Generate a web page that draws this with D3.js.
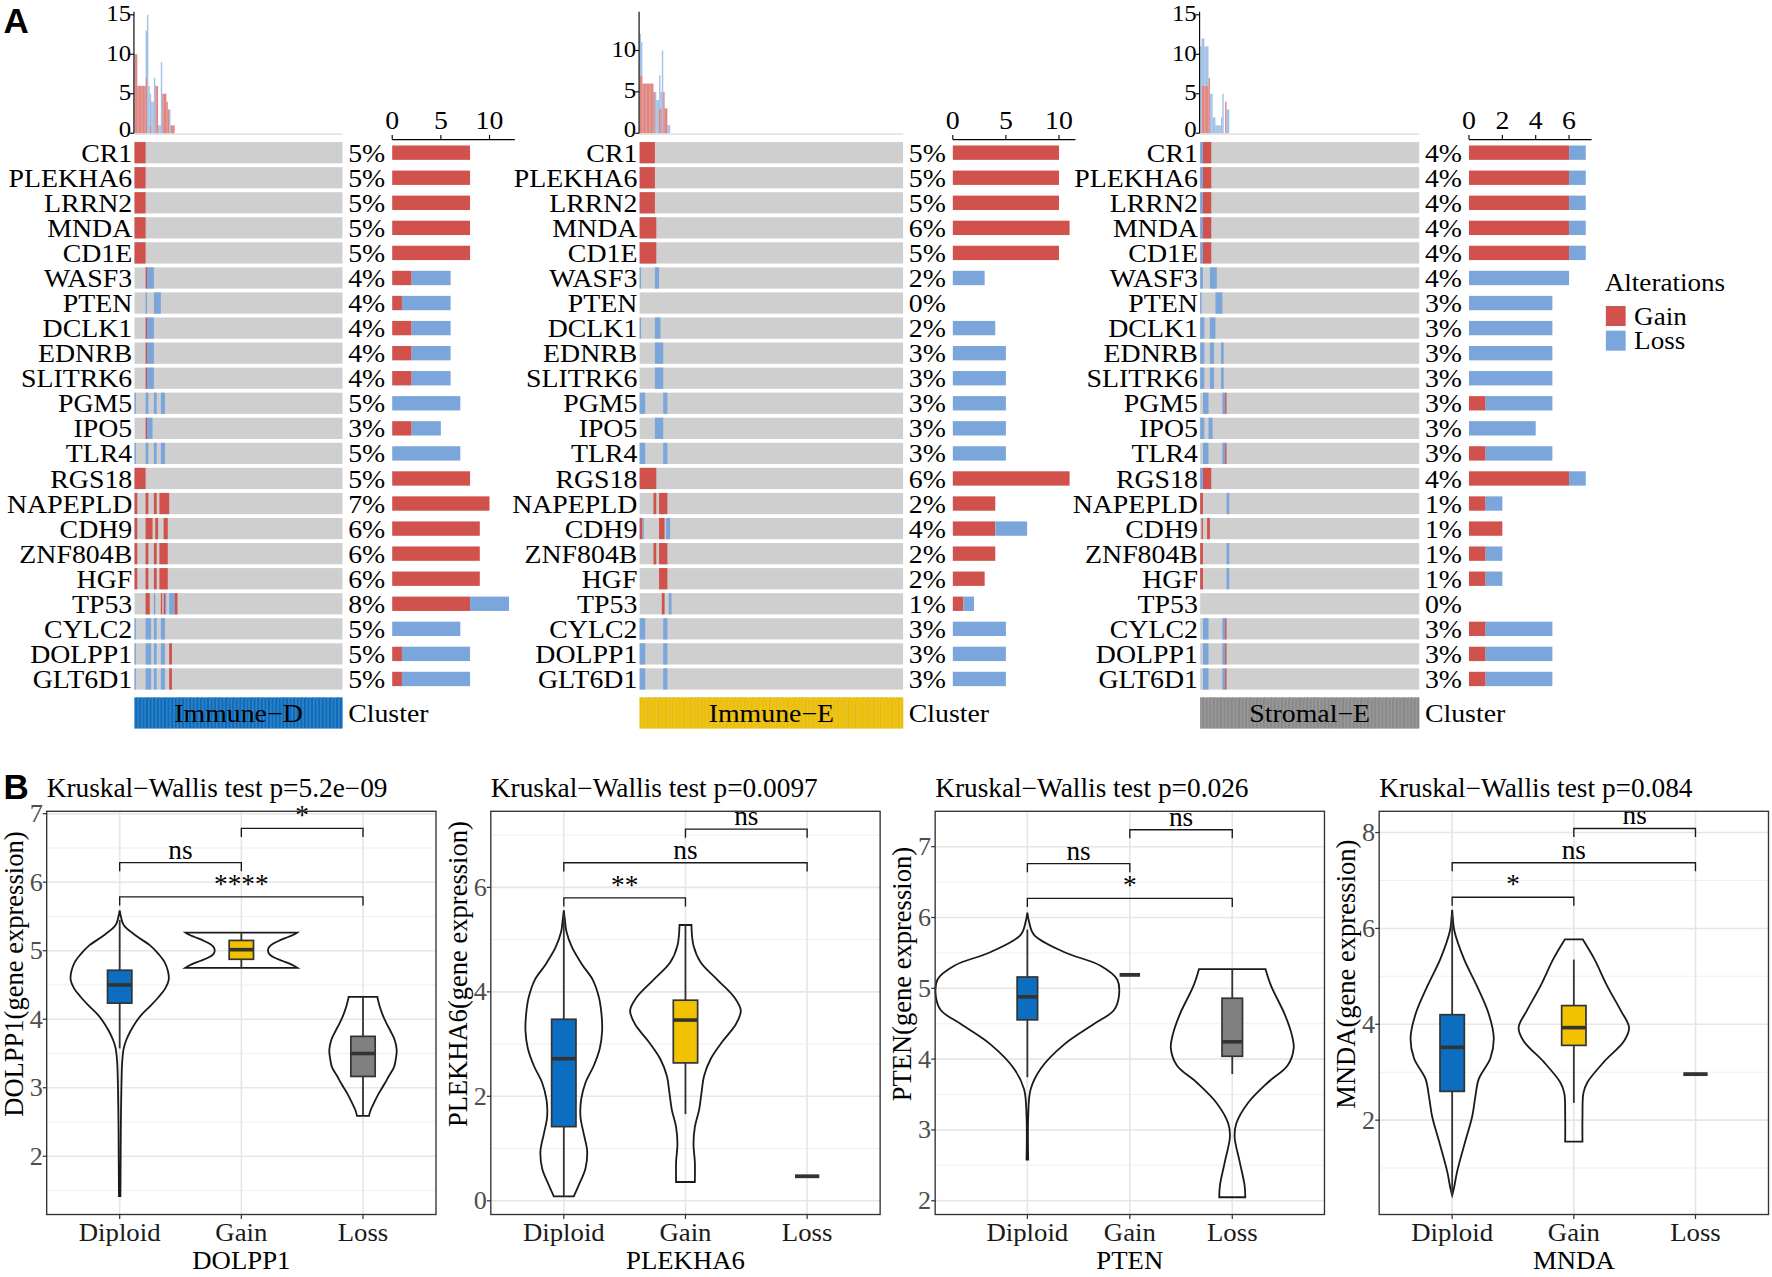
<!DOCTYPE html>
<html>
<head>
<meta charset="utf-8">
<script src="https://cdnjs.cloudflare.com/ajax/libs/d3/7.8.5/d3.min.js"></script>
<style>
body { margin: 0; background: #fff; }
text { font-family: "Liberation Serif", "Times New Roman", serif; }
</style>
</head>
<body>
<svg id="fig" width="1772" height="1277" viewBox="0 0 1568 1130"></svg>
<script>
// ---------------- data: panel A (oncoprints) ----------------
var genes = ["CR1", "PLEKHA6", "LRRN2", "MNDA", "CD1E", "WASF3", "PTEN", "DCLK1", "EDNRB", "SLITRK6",
    "PGM5", "IPO5", "TLR4", "RGS18", "NAPEPLD", "CDH9", "ZNF804B", "HGF", "TP53", "CYLC2", "DOLPP1", "GLT6D1"];
var clusterNames = ["Immune\u2212D", "Immune\u2212E", "Stromal\u2212E"];
var clusterSizes = [150, 190, 158];

// samples with gain / loss per gene (right barplots) and the printed percentages
var immuneD_gain = [8, 8, 8, 8, 8, 2, 1, 2, 2, 2, 0, 2, 0, 8, 10, 9, 9, 9, 8, 0, 1, 1];
var immuneD_loss = [0, 0, 0, 0, 0, 4, 5, 4, 4, 4, 7, 3, 7, 0, 0, 0, 0, 0, 4, 7, 7, 7];
var immuneD_pct = [5, 5, 5, 5, 5, 4, 4, 4, 4, 4, 5, 3, 5, 5, 7, 6, 6, 6, 8, 5, 5, 5];
var immuneE_gain = [10, 10, 10, 11, 10, 0, 0, 0, 0, 0, 0, 0, 0, 11, 4, 4, 4, 3, 1, 0, 0, 0];
var immuneE_loss = [0, 0, 0, 0, 0, 3, 0, 4, 5, 5, 5, 5, 5, 0, 0, 3, 0, 0, 1, 5, 5, 5];
var immuneE_pct = [5, 5, 5, 6, 5, 2, 0, 2, 3, 3, 3, 3, 3, 6, 2, 4, 2, 2, 1, 3, 3, 3];
var stromalE_gain = [6, 6, 6, 6, 6, 0, 0, 0, 0, 0, 1, 0, 1, 6, 1, 2, 1, 1, 0, 1, 1, 1];
var stromalE_loss = [1, 1, 1, 1, 1, 6, 5, 5, 5, 5, 4, 4, 4, 1, 1, 0, 1, 1, 0, 4, 4, 4];
var stromalE_pct = [4, 4, 4, 4, 4, 4, 3, 3, 3, 3, 3, 3, 3, 4, 1, 1, 1, 1, 0, 3, 3, 3];

// oncoprint cells: type (G gain / L loss) + first sample : number of samples
var immuneD_cells = [
    ["G0:8"], ["G0:8"], ["G0:8"], ["G0:8"], ["G0:8"],
    ["G8:1", "L9:5"], ["L8:1", "L14:5"], ["G8:1", "L9:5"], ["G8:1", "L9:5"], ["G8:1", "L9:5"],
    ["L0:1", "L8:2", "L14:2", "L19:3"], ["G8:1", "L9:4"], ["L0:1", "L8:2", "L14:2", "L19:3"],
    ["G0:8"],
    ["G0:2", "G8:2", "G14:2", "G18:7"], ["G0:2", "G8:5", "G15:2", "G21:3"],
    ["G0:2", "G8:2", "G14:2", "G18:6"], ["G0:2", "G8:2", "G14:2", "G18:6"],
    ["G8:3", "L14:1", "G19:1", "G21:1", "L22:1", "L25:4", "G29:2"],
    ["L0:1", "L8:4", "L14:2", "L19:3"], ["L0:1", "L8:4", "L14:2", "L19:3", "G25:2"],
    ["L0:1", "L8:4", "L14:2", "L19:3", "G25:2"]
];
var immuneE_cells = [
    ["G0:11"], ["G0:11"], ["G0:11"], ["G0:12"], ["G0:12"],
    ["L0:1", "L11:3"], [], ["L0:1", "L11:4"], ["L11:6"], ["L11:6"],
    ["L0:4", "L17:3"], ["L11:6"], ["L0:4", "L17:3"],
    ["G0:12"],
    ["G10:2", "G14:6"], ["G0:2", "L2:1", "G14:4", "L19:3"], ["G10:2", "G14:6"], ["G14:6"],
    ["G16:2", "L21:2"],
    ["L0:4", "L17:3"], ["L0:4", "L17:3"], ["L0:4", "L17:3"]
];
var stromalE_cells = [
    ["L0:2", "G2:6"], ["L0:2", "G2:6"], ["L0:2", "G2:6"], ["L0:2", "G2:6"], ["L0:2", "G2:6"],
    ["L0:2", "L7:5"], ["L0:1", "L11:5"], ["L0:3", "L7:4"], ["L0:3", "L7:3", "L15:2"], ["L0:3", "L7:3", "L15:2"],
    ["L2:4", "L16:2", "G18:1"], ["L0:3", "L6:3"], ["L2:4", "L16:2", "G18:1"],
    ["L0:2", "G2:6"],
    ["G0:2", "L19:2"], ["G1:1", "G5:2"], ["G0:2", "L19:2"], ["G0:2", "L19:2"],
    [],
    ["L2:4", "L16:2", "G18:1"], ["L2:4", "L16:2", "G18:1"], ["L2:4", "L16:2", "G18:1"]
];

// alterations per sample (top histograms), first samples only
var immuneD_histGain = [10, 10, 6, 6, 6, 6, 6, 6, 7, 0, 0, 1, 0, 0, 0, 6, 6, 0, 0, 0, 5, 5, 5, 4, 3, 0, 1, 1, 1];
var immuneD_histLoss = [0, 0, 0, 0, 0, 0, 0, 0, 6, 15, 6, 4, 4, 4, 7, 0, 0, 1, 1, 9, 0, 0, 0, 0, 0, 3, 0, 0, 0];
var immuneE_histGain = [7, 7, 6, 6, 6, 6, 6, 6, 6, 6, 5, 0, 0, 0, 3, 3, 0, 5, 3, 3, 0, 0];
var immuneE_histLoss = [5, 4, 0, 0, 0, 0, 0, 0, 0, 0, 0, 5, 4, 4, 4, 2, 10, 0, 0, 0, 1, 1];
var stromalE_histGain = [0, 6, 6, 6, 6, 6, 7, 0, 0, 0, 0, 0, 0, 0, 0, 0, 0, 0, 4, 0, 0];
var stromalE_histLoss = [11, 6, 6, 5, 5, 5, 0, 5, 5, 2, 2, 1, 1, 1, 1, 2, 5, 0, 0, 3, 3];

var histTop = [15.4, 14.7, 15.4];
var histTicks = [[0, 5, 10, 15], [0, 5, 10], [0, 5, 10, 15]];
var barTicks = [[0, 5, 10], [0, 5, 10], [0, 2, 4, 6]];
var legendLabels = ["Gain", "Loss"];

// ---------------- data: panel B (violins) ----------------
var groups = ["Diploid", "Gain", "Loss"];
var violinGenes = ["DOLPP1", "PLEKHA6", "PTEN", "MNDA"];
var kruskalP = ["5.2e\u221209", "0.0097", "0.026", "0.084"];
var yTicks = [[2, 3, 4, 5, 6, 7], [0, 2, 4, 6], [2, 3, 4, 5, 6, 7], [2, 4, 6, 8]];
var yMinor = [[1.5, 2.5, 3.5, 4.5, 5.5, 6.5], [1, 3, 5, 7], [2.5, 3.5, 4.5, 5.5, 6.5], [1, 3, 5, 7]];
var yRanges = [[1.15, 7.035], [-0.262, 7.456], [1.806, 7.5], [0.031, 8.444]];
var xPad = [0.6, 0.6, 0.9, 0.6];

// violin outlines: [expression, half width in group units]
var dolpp1_violin = [
    [[1.42, .006], [2.0, .008], [2.5, .01], [3.0, .014], [3.325, .019], [3.45, .024], [3.575, .033], [3.7, .055],
     [3.825, .088], [3.95, .13], [4.075, .184], [4.2, .255], [4.325, .32], [4.45, .375], [4.575, .403], [4.7, .397],
     [4.83, .37], [4.95, .32], [5.075, .252], [5.225, .129], [5.375, .033], [5.5, .01], [5.59, 0]],
    [[4.75, .46], [4.8, .41], [4.85, .34], [4.9, .27], [4.95, .23], [5.0, .219], [5.05, .227], [5.1, .26],
     [5.15, .315], [5.2, .384], [5.24, .438], [5.265, .46]],
    [[2.59, .049], [2.675, .063], [2.8, .096], [2.925, .132], [3.05, .175], [3.175, .214], [3.3, .255], [3.425, .27],
     [3.55, .277], [3.7, .26], [3.825, .227], [3.95, .19], [4.075, .159], [4.2, .135], [4.325, .118]]
];
var plekha6_violin = [
    [[0.085, .082], [0.3, .123], [0.62, .178], [0.95, .192], [1.28, .164], [1.61, .137], [1.93, .142], [2.26, .178],
     [2.59, .247], [2.92, .296], [3.25, .315], [3.57, .31], [3.9, .288], [4.23, .238], [4.52, .151], [4.85, .068],
     [5.15, .022], [5.4, .008], [5.56, 0]],
    [[0.36, .077], [0.75, .077], [1.08, .066], [1.41, .077], [1.74, .112], [2.07, .132], [2.39, .153], [2.72, .208],
     [3.05, .304], [3.38, .414], [3.64, .455], [3.9, .4], [4.23, .263], [4.56, .126], [4.885, .066], [5.28, .049]],
    null
];
var pten_violin = [
    [[2.58, .008], [3.19, .008], [3.575, .032], [3.865, .13], [4.205, .357], [4.495, .649], [4.69, .844], [4.883, .893],
     [5.125, .877], [5.32, .714], [5.513, .357], [5.755, .065], [5.95, .015], [6.07, 0]],
    null,
    [[2.05, .127], [2.22, .12], [2.56, .071], [2.9, .023], [3.09, .039], [3.38, .153], [3.67, .347], [3.91, .54],
     [4.16, .6], [4.35, .58], [4.64, .51], [5.03, .38], [5.27, .325]]
];
var mnda_violin = [
    [[0.43, 0], [0.57, .014], [0.93, .041], [1.57, .109], [2.07, .164], [2.5, .191], [2.86, .219], [3.29, .314],
     [3.72, .342], [4.22, .3], [4.79, .205], [5.37, .096], [5.94, .019], [6.2, .006], [6.39, 0]],
    [[1.55, .071], [2.07, .071], [2.57, .079], [2.79, .112], [3.22, .249], [3.65, .413], [3.93, .454], [4.29, .385],
     [4.79, .276], [5.37, .167], [5.77, .074]],
    null
];
// boxes: [lower whisker, q1, median, q3, upper whisker]
var dolpp1_box = [[3.575, 4.235, 4.5, 4.715, 5.45], [4.75, 4.875, 5.015, 5.15, 5.265], [2.59, 3.165, 3.5, 3.75, 4.325]];
var plekha6_box = [[0.085, 1.42, 2.72, 3.475, 5.5], [1.66, 2.64, 3.46, 3.84, 5.28], [0.47, 0.47, 0.47, 0.47, 0.47]];
var pten_box = [[3.745, 4.555, 4.88, 5.16, 5.83], [5.19, 5.19, 5.19, 5.19, 5.19], [3.79, 4.04, 4.245, 4.86, 5.27]];
var mnda_box = [[0.43, 2.6, 3.52, 4.2, 6.3], [2.36, 3.56, 3.93, 4.39, 5.35], [2.96, 2.96, 2.96, 2.96, 2.96]];
// pairwise tests: [group a, group b, bracket height, label]
var dolpp1_tests = [[1, 2, 6.285, "ns"], [2, 3, 6.785, "*"], [1, 3, 5.785, "****"]];
var plekha6_tests = [[1, 2, 5.8, "**"], [1, 3, 6.47, "ns"], [2, 3, 7.115, "ns"]];
var pten_tests = [[1, 2, 6.76, "ns"], [1, 3, 6.27, "*"], [2, 3, 7.24, "ns"]];
var mnda_tests = [[1, 2, 6.65, "*"], [1, 3, 7.37, "ns"], [2, 3, 8.086, "ns"]];

// ---------------- drawing ----------------
var GAIN = "#d1514c", LOSS = "#7aa6dc", GREY = "#cfcfcf";
var clusterColors = ["#0b6ec0", "#f2c200", "#8c8c8c"];
var FS_A = 22, SX_A = 1.12;     // oncoprint lettering (a little wide in the figure)
var FS_B = 23.5, SX_B = 1.03;   // violin panels

var svg = d3.select("#fig");

function txt(g, x, y, s, size, anchor, opts) {
    opts = opts || {};
    var sx = opts.sx || 1;
    var tr = "translate(" + x + "," + y + ")" + (opts.rot ? " rotate(-90)" : " scale(" + sx + ",1)");
    var t = g.append("text")
        .attr("transform", tr)
        .attr("text-anchor", anchor || "start")
        .attr("font-size", size)
        .attr("fill", opts.fill || "#000")
        .text(s);
    if (opts.mid) t.attr("dominant-baseline", "central");
    if (opts.sans) t.style("font-family", "'Liberation Sans', Arial, sans-serif").attr("font-weight", "bold");
    return t;
}

var SW = 1.227;                 // one sample column
var gridX = [119, 566, 1062];
var CELL_H = 18.8, BAR_H = 12.7;
var rowY = d3.scalePoint().domain(genes).range([135.1, 600.8]);

function parseCells(cells) {
    var out = [];
    cells.forEach(function (list, i) {
        list.forEach(function (s) {
            var m = s.slice(1).split(":");
            out.push({gene: genes[i], type: s[0], start: +m[0], len: +m[1]});
        });
    });
    return out;
}

function drawOnco(p, cells, gain, loss, pct, hGain, hLoss) {
    var n = clusterSizes[p], x0 = gridX[p], x1 = x0 + n * SW;
    var g = svg.append("g");
    var xs = d3.scaleLinear().domain([0, n]).range([x0, x1]);
    var A = {mid: true, sx: SX_A};

    // top histogram
    var hy = d3.scaleLinear().domain([0, histTop[p]]).range([117.9, 10.3]);
    g.append("line").attr("x1", x0).attr("x2", x1).attr("y1", hy(0) + 0.8).attr("y2", hy(0) + 0.8)
        .attr("stroke", "#e4e4e4").attr("stroke-width", 1.6);
    var hist = hGain.map(function (v, i) { return {i: i, g: v, l: hLoss[i]}; });
    g.selectAll("rect.hg").data(hist).enter().append("rect")
        .attr("x", function (d) { return xs(d.i); })
        .attr("width", SW)
        .attr("y", function (d) { return hy(d.g); })
        .attr("height", function (d) { return hy(0) - hy(d.g); })
        .attr("fill", GAIN).attr("fill-opacity", 0.7);
    g.selectAll("rect.hl").data(hist).enter().append("rect")
        .attr("x", function (d) { return xs(d.i); })
        .attr("width", SW)
        .attr("y", function (d) { return hy(d.g + d.l); })
        .attr("height", function (d) { return hy(d.g) - hy(d.g + d.l); })
        .attr("fill", LOSS).attr("fill-opacity", 0.7);
    g.append("line").attr("x1", x0 - 0.5).attr("x2", x0 - 0.5).attr("y1", hy(0)).attr("y2", hy(histTop[p]))
        .attr("stroke", "#000").attr("stroke-width", 1);
    histTicks[p].forEach(function (t) {
        g.append("line").attr("x1", x0 - 4).attr("x2", x0 - 0.5).attr("y1", hy(t)).attr("y2", hy(t))
            .attr("stroke", "#000").attr("stroke-width", 1);
        txt(g, x0 - 3, hy(t) - (t === 0 ? 3.5 : 1), t, 20, "end", {mid: true, sx: 1.1});
    });

    // grid rows
    g.selectAll("rect.bg").data(genes).enter().append("rect")
        .attr("x", x0).attr("width", x1 - x0)
        .attr("y", function (d) { return rowY(d) - CELL_H / 2; })
        .attr("height", CELL_H).attr("fill", GREY);
    g.selectAll("rect.alt").data(parseCells(cells)).enter().append("rect")
        .attr("x", function (d) { return xs(d.start); })
        .attr("width", function (d) { return xs(d.start + d.len) - xs(d.start); })
        .attr("y", function (d) { return rowY(d.gene) - CELL_H / 2; })
        .attr("height", CELL_H)
        .attr("fill", function (d) { return d.type === "G" ? GAIN : LOSS; });
    genes.forEach(function (gn, i) {
        txt(g, x0 - 2, rowY(gn) + 0.5, gn, FS_A, "end", A);
        txt(g, x1 + 5, rowY(gn) + 0.5, pct[i] + "%", FS_A, "start", A);
    });

    // right barplot
    var bx0 = x1 + 44;
    var tot = gain.map(function (v, i) { return v + loss[i]; });
    var bs = d3.scaleLinear().domain([0, d3.max(tot) * 1.05]).range([bx0, bx0 + 108.5]);
    var bars = genes.map(function (gn, i) { return {gene: gn, g: gain[i], l: loss[i]}; });
    g.selectAll("rect.bg2").data(bars).enter().append("rect")
        .attr("x", bs(0))
        .attr("width", function (d) { return bs(d.g) - bs(0); })
        .attr("y", function (d) { return rowY(d.gene) - BAR_H / 2; })
        .attr("height", BAR_H).attr("fill", GAIN);
    g.selectAll("rect.bl2").data(bars).enter().append("rect")
        .attr("x", function (d) { return bs(d.g); })
        .attr("width", function (d) { return bs(d.g + d.l) - bs(d.g); })
        .attr("y", function (d) { return rowY(d.gene) - BAR_H / 2; })
        .attr("height", BAR_H).attr("fill", LOSS);
    var ay = 123.5;
    g.append("line").attr("x1", bs.range()[0]).attr("x2", bs.range()[1]).attr("y1", ay).attr("y2", ay)
        .attr("stroke", "#000").attr("stroke-width", 1);
    barTicks[p].forEach(function (t) {
        g.append("line").attr("x1", bs(t)).attr("x2", bs(t)).attr("y1", ay).attr("y2", ay - 4)
            .attr("stroke", "#000").attr("stroke-width", 1);
        txt(g, bs(t), 114, t, FS_A, "middle", {sx: SX_A});
    });

    // cluster annotation
    g.selectAll("rect.cl").data(d3.range(n)).enter().append("rect")
        .attr("x", function (d) { return xs(d); })
        .attr("width", SW)
        .attr("y", 617.4).attr("height", 27.2)
        .attr("fill", clusterColors[p])
        .attr("stroke", d3.color(clusterColors[p]).darker(0.5))
        .attr("stroke-width", 0.25).attr("stroke-opacity", 0.6);
    txt(g, (x0 + x1) / 2, 631.5, clusterNames[p], FS_A, "middle", A);
    txt(g, x1 + 5, 631.5, "Cluster", FS_A, "start", A);
}

drawOnco(0, immuneD_cells, immuneD_gain, immuneD_loss, immuneD_pct, immuneD_histGain, immuneD_histLoss);
drawOnco(1, immuneE_cells, immuneE_gain, immuneE_loss, immuneE_pct, immuneE_histGain, immuneE_histLoss);
drawOnco(2, stromalE_cells, stromalE_gain, stromalE_loss, stromalE_pct, stromalE_histGain, stromalE_histLoss);

// legend
var lg = svg.append("g");
txt(lg, 1420, 250.7, "Alterations", FS_A, "start", {mid: true, sx: 1.09});
legendLabels.forEach(function (lab, i) {
    lg.append("rect").attr("x", 1421).attr("y", 270.8 + i * 21.8).attr("width", 17.5).attr("height", 17.7)
        .attr("fill", i === 0 ? GAIN : LOSS);
    txt(lg, 1446, 280 + i * 21.8, lab, FS_A, "start", {mid: true, sx: 1.09});
});

txt(svg, 3, 29, "A", 31, "start", {sans: true});
txt(svg, 3, 707, "B", 31, "start", {sans: true});

// ---------------- violins ----------------
var vLeft = [41.3, 434.3, 827.5, 1220.4];
var V_W = 344.5, V_T = 717.9, V_B = 1074.7;
var boxFill = ["#0b6ec0", "#f2c200", "#808080"];

function drawViolin(k, violins, boxes, tests) {
    var L = vLeft[k], R = L + V_W;
    var g = svg.append("g");
    var x = d3.scaleLinear().domain([1 - xPad[k], 3 + xPad[k]]).range([L, R]);
    var y = d3.scaleLinear().domain(yRanges[k]).range([V_B, V_T]);
    var B = {sx: SX_B};

    g.append("rect").attr("x", L).attr("y", V_T).attr("width", V_W).attr("height", V_B - V_T).attr("fill", "#fff");
    yMinor[k].forEach(function (v) {
        g.append("line").attr("x1", L).attr("x2", R).attr("y1", y(v)).attr("y2", y(v))
            .attr("stroke", "#f0f0f0").attr("stroke-width", 0.9);
    });
    yTicks[k].forEach(function (v) {
        g.append("line").attr("x1", L).attr("x2", R).attr("y1", y(v)).attr("y2", y(v))
            .attr("stroke", "#e6e6e6").attr("stroke-width", 1.4);
    });
    [1, 2, 3].forEach(function (c) {
        g.append("line").attr("x1", x(c)).attr("x2", x(c)).attr("y1", V_T).attr("y2", V_B)
            .attr("stroke", "#e6e6e6").attr("stroke-width", 1.4);
    });

    violins.forEach(function (prof, i) {
        if (!prof) return;
        var c = i + 1;
        var area = d3.area()
            .y(function (d) { return y(d[0]); })
            .x0(function (d) { return x(c - d[1]); })
            .x1(function (d) { return x(c + d[1]); })
            .curve(d3.curveCatmullRom);
        g.append("path").attr("d", area(prof))
            .attr("fill", "none").attr("stroke", "#1a1a1a").attr("stroke-width", 1.6);
    });

    boxes.forEach(function (b, i) {
        var c = i + 1, hw = 0.1;
        if (b[0] === b[4]) {
            g.append("line").attr("x1", x(c - hw)).attr("x2", x(c + hw)).attr("y1", y(b[2])).attr("y2", y(b[2]))
                .attr("stroke", "#333").attr("stroke-width", 3.4);
            return;
        }
        g.append("line").attr("x1", x(c)).attr("x2", x(c)).attr("y1", y(b[0])).attr("y2", y(b[4]))
            .attr("stroke", "#333").attr("stroke-width", 1.6);
        g.append("rect").attr("x", x(c - hw)).attr("width", x(c + hw) - x(c - hw))
            .attr("y", y(b[3])).attr("height", y(b[1]) - y(b[3]))
            .attr("fill", boxFill[i]).attr("stroke", "#333").attr("stroke-width", 1.5);
        g.append("line").attr("x1", x(c - hw)).attr("x2", x(c + hw)).attr("y1", y(b[2])).attr("y2", y(b[2]))
            .attr("stroke", "#333").attr("stroke-width", 3.2);
    });

    tests.forEach(function (t) {
        var yy = y(t[2]), tip = 7.6;
        g.append("path")
            .attr("d", "M" + x(t[0]) + "," + (yy + tip) + "V" + yy + "H" + x(t[1]) + "V" + (yy + tip))
            .attr("fill", "none").attr("stroke", "#1a1a1a").attr("stroke-width", 1.2);
        txt(g, (x(t[0]) + x(t[1])) / 2, yy - 3.5, t[3], FS_B, "middle", B);
    });

    g.append("rect").attr("x", L).attr("y", V_T).attr("width", V_W).attr("height", V_B - V_T)
        .attr("fill", "none").attr("stroke", "#333").attr("stroke-width", 1.2);

    yTicks[k].forEach(function (v) {
        g.append("line").attr("x1", L - 3.5).attr("x2", L).attr("y1", y(v)).attr("y2", y(v))
            .attr("stroke", "#333").attr("stroke-width", 1.1);
        txt(g, L - 3.5, y(v), v, 22.5, "end", {mid: true, fill: "#4d4d4d", sx: SX_B});
    });
    groups.forEach(function (gr, i) {
        g.append("line").attr("x1", x(i + 1)).attr("x2", x(i + 1)).attr("y1", V_B).attr("y2", V_B + 4)
            .attr("stroke", "#333").attr("stroke-width", 1.1);
        txt(g, x(i + 1), 1098.5, gr, 23, "middle", {fill: "#1a1a1a", sx: SX_B});
    });
    txt(g, (L + R) / 2, 1123, violinGenes[k], 23, "middle", B);
    txt(g, L - 29, 862, violinGenes[k] + "(gene expression)", FS_B, "middle", {rot: true, mid: true});
    txt(g, L, 705, "Kruskal\u2212Wallis test p=" + kruskalP[k], FS_B, "start", B);
}

drawViolin(0, dolpp1_violin, dolpp1_box, dolpp1_tests);
drawViolin(1, plekha6_violin, plekha6_box, plekha6_tests);
drawViolin(2, pten_violin, pten_box, pten_tests);
drawViolin(3, mnda_violin, mnda_box, mnda_tests);
</script>
</body>
</html>
